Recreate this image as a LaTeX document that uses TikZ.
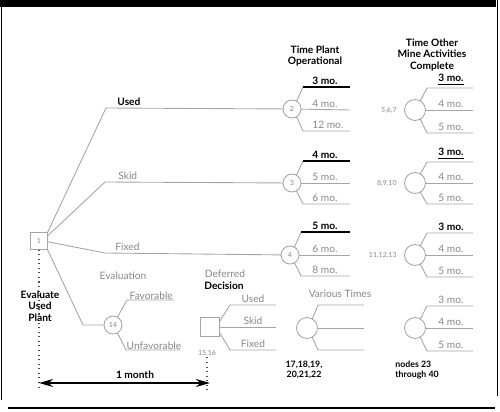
\documentclass[tikz,border=0pt]{standalone}
\usepackage{fontspec}
\setmainfont{Lato}
\usetikzlibrary{arrows.meta}
\definecolor{linegray}{RGB}{165,165,165}
\definecolor{textgray}{RGB}{135,135,135}

\begin{document}
\begin{tikzpicture}[x=0.02cm, y=-0.02cm, font=\fontsize{5.8}{6.6}\selectfont, every node/.style={inner sep=0.8pt, outer sep=0pt}, line join=miter,
    branch/.style={draw=linegray, line width=0.5pt},
    best/.style={draw=black, line width=1.1pt},
    chance/.style={circle, draw=linegray, line width=0.5pt, minimum size=0.36cm, text=textgray, font=\fontsize{4}{4}\selectfont},
    bigchance/.style={circle, draw=linegray, line width=0.5pt, minimum size=0.42cm},
    choice/.style={rectangle, draw=linegray, line width=0.5pt, minimum size=0.34cm, text=textgray, font=\fontsize{4}{4}\selectfont},
    grey/.style={text=textgray},
    hdr/.style={font=\fontsize{5.8}{6.6}\selectfont\bfseries, align=center},
    tag/.style={text=textgray, font=\fontsize{4}{4}\selectfont},
    mo/.style={anchor=south west},
    timeline/.style={dotted, line width=0.6pt, draw=black!70}]
    \useasboundingbox (0,0) rectangle (500,412);
    % frame
    \fill[black] (0,0) rectangle (496,7);
    \draw[line width=0.9pt] (1.5,0) -- (1.5,400);
    \draw[line width=0.9pt] (497.5,0) -- (497.5,396);
    \draw[line width=1.2pt] (8,408) -- (495,408);

    % headings
    \node[hdr] (hplant) at (315,56) {Time Plant\\Operational};
    \node[hdr] (hmine) at (432,55) {Time Other\\Mine Activities\\Complete};

    % decision and chance nodes
    \node[choice] (n1) at (39,241) {1};
    \node[chance] (n2) at (292,109) {2};
    \node[chance] (n3) at (292,183) {3};
    \node[chance] (n4) at (290,255) {4};
    \node[chance] (n14) at (113,325) {14};
    \node[choice, minimum size=0.38cm] (n15) at (210,327) {};
    \node[bigchance] (n17) at (307,328) {};
    \node[bigchance] (n5) at (415,110) {};
    \node[bigchance] (n8) at (415,183) {};
    \node[bigchance] (n11) at (415,255) {};
    \node[bigchance] (n23) at (415,328) {};

    % first decision
    \draw[branch] (n1.north east) -- (106,108) -- (n2);
    \draw[branch] (n1.30) -- (105,182) -- (n3);
    \draw[branch] (n1.-5) -- (105,253) -- (n4);
    \draw[branch] (n1.south east) -- (83,325) -- (n14);
    \node[mo, font=\fontsize{5.8}{6.6}\selectfont\bfseries] (lused) at (116,107) {Used};
    \node[mo, grey] (lskid) at (117,181) {Skid};
    \node[mo, grey] (lfixed) at (114,252) {Fixed};
    \node[grey] (leval) at (123,276) {Evaluation};

    % time plant operational
    \draw[branch] (n2.60) -- (303,87) coordinate (n2k) -- (350,87) coordinate (n2a);
    \draw[best] (n2k) -- (n2a);
    \draw[branch] (n2) -- (350,110) coordinate (n2b);
    \draw[branch] (n2.-60) -- (303,131) -- (350,131) coordinate (n2c);
    \node[mo, font=\fontsize{5.8}{6.6}\selectfont\bfseries] (l2a) at (311,86) {3 mo.};
    \node[mo, grey] (l2b) at (311,109) {4 mo.};
    \node[mo, grey] (l2c) at (311,130) {12 mo.};

    \draw[branch] (n3.60) -- (303,161) coordinate (n3k) -- (350,161) coordinate (n3a);
    \draw[best] (n3k) -- (n3a);
    \draw[branch] (n3) -- (350,183) coordinate (n3b);
    \draw[branch] (n3.-60) -- (303,204) -- (350,204) coordinate (n3c);
    \node[mo, font=\fontsize{5.8}{6.6}\selectfont\bfseries] (l3a) at (311,160) {4 mo.};
    \node[mo, grey] (l3b) at (311,182) {5 mo.};
    \node[mo, grey] (l3c) at (311,203) {6 mo.};

    \draw[branch] (n4.60) -- (301,232) coordinate (n4k) -- (350,232) coordinate (n4a);
    \draw[best] (n4k) -- (n4a);
    \draw[branch] (n4) -- (350,255) coordinate (n4b);
    \draw[branch] (n4.-60) -- (301,276) -- (350,276) coordinate (n4c);
    \node[mo, font=\fontsize{5.8}{6.6}\selectfont\bfseries] (l4a) at (311,231) {5 mo.};
    \node[mo, grey] (l4b) at (311,254) {6 mo.};
    \node[mo, grey] (l4c) at (311,275) {8 mo.};

    % other mine activities
    \node[tag, anchor=east] (t5) at (398,110) {5,6,7};
    \draw[branch] (n5.60) -- (427,88) -- (473,88) coordinate (n5a);
    \draw[branch] (n5) -- (473,110) coordinate (n5b);
    \draw[branch] (n5.-60) -- (427,133) -- (473,133) coordinate (n5c);
    \node[mo, font=\fontsize{5.8}{6.6}\selectfont\bfseries] (l5a) at (437,87) {\underline{3 mo.}};
    \node[mo, grey] (l5b) at (437,109) {4 mo.};
    \node[mo, grey] (l5c) at (437,132) {5 mo.};

    \node[tag, anchor=east] (t8) at (398,183) {8,9,10};
    \draw[branch] (n8.60) -- (427,162) -- (473,162) coordinate (n8a);
    \draw[branch] (n8) -- (473,183) coordinate (n8b);
    \draw[branch] (n8.-60) -- (427,204) -- (473,204) coordinate (n8c);
    \node[mo, font=\fontsize{5.8}{6.6}\selectfont\bfseries] (l8a) at (437,161) {\underline{3 mo.}};
    \node[mo, grey] (l8b) at (437,182) {4 mo.};
    \node[mo, grey] (l8c) at (437,203) {5 mo.};

    \node[tag, anchor=east] (t11) at (398,255) {11,12,13};
    \draw[branch] (n11.60) -- (427,233) -- (473,233) coordinate (n11a);
    \draw[branch] (n11) -- (473,255) coordinate (n11b);
    \draw[branch] (n11.-60) -- (427,277) -- (473,277) coordinate (n11c);
    \node[mo, font=\fontsize{5.8}{6.6}\selectfont\bfseries] (l11a) at (437,232) {3 mo.};
    \node[mo, grey] (l11b) at (437,254) {4 mo.};
    \node[mo, grey] (l11c) at (437,276) {5 mo.};

    % evaluation chance node
    \draw[branch] (n14.60) -- (127,300) -- (174,300) coordinate (n14a);
    \draw[branch] (n14.-60) -- (126,350) -- (180,350) coordinate (n14b);
    \node[mo, grey, inner sep=0.4pt] (lfav) at (129,300) {Favorable};
    \node[mo, grey, inner sep=0.4pt] (lunfav) at (126,350) {Unfavorable};

    % deferred decision
    \node[grey] (ldef) at (225,274) {Deferred};
    \node[font=\fontsize{5.8}{6.6}\selectfont\bfseries] (ldec) at (224,286) {Decision};
    \draw[branch] (n15.30) -- (230,305) -- (276,305) coordinate (n15a);
    \draw[branch] (n15) -- (276,327) coordinate (n15b);
    \draw[branch] (n15.-30) -- (230,350) -- (276,350) coordinate (n15c);
    \node[grey, anchor=south] (l15a) at (253,304) {Used};
    \node[grey, anchor=south] (l15b) at (253,326) {Skid};
    \node[grey, anchor=south] (l15c) at (253,349) {Fixed};
    \node[tag] (t15) at (207,353) {15,16};

    % various times
    \node[grey] (lvar) at (340,294) {Various Times};
    \draw[branch] (n17.60) -- (318,305) -- (364,305) coordinate (n17a);
    \draw[branch] (n17) -- (364,328) coordinate (n17b);
    \draw[branch] (n17.-60) -- (318,350) -- (364,350) coordinate (n17c);
    \node[font=\fontsize{5}{5.8}\selectfont\bfseries, align=center] (t17) at (304,370) {17,18,19,\\20,21,22};

    \draw[branch] (n23.60) -- (427,306) -- (473,306) coordinate (n23a);
    \draw[branch] (n23) -- (473,328) coordinate (n23b);
    \draw[branch] (n23.-60) -- (427,351) -- (473,351) coordinate (n23c);
    \node[mo, grey] (l23a) at (437,305) {3 mo.};
    \node[mo, grey] (l23b) at (437,327) {4 mo.};
    \node[mo, grey] (l23c) at (437,350) {5 mo.};
    \node[font=\fontsize{5}{5.8}\selectfont\bfseries, align=left, anchor=west] (t23) at (394,370) {nodes 23\\through 40};

    % time line
    \draw[timeline] (n1.south) -- (39,390) coordinate (d0);
    \draw[timeline] (t15.south) -- (207,390) coordinate (d1);
    \node[font=\fontsize{5.8}{6.6}\selectfont\bfseries, align=center] (leup) at (40,306) {Evaluate\\Used\\Plant};
    \coordinate (a0) at (39,383);
    \coordinate (a1) at (210,383);
    \draw[{Stealth[length=8pt,width=4.5pt]}-{Stealth[length=8pt,width=4.5pt]}, line width=1.4pt] (a0) -- (a1);
    \node[font=\fontsize{5.8}{6.6}\selectfont\bfseries] (lmonth) at (135,375) {1 month};
\end{tikzpicture}
\end{document}
